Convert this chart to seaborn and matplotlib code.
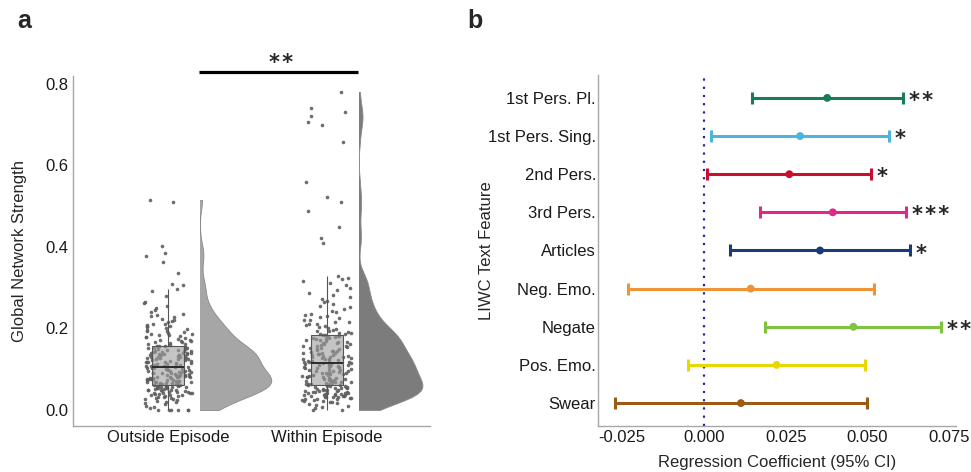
import numpy as np
import pandas as pd
import matplotlib
matplotlib.use('Agg')
import matplotlib.pyplot as plt
import seaborn as sns
from matplotlib.patches import Rectangle

# ---- panel a: global network strength per group ----
groups = ['Outside Episode', 'Within Episode']

outside_values = [
    0, 0, 0, 0, 0, 0, 0.004, 0.008, 0.011, 0.014, 0.017, 0.019, 0.021, 0.023, 0.025,
    0.026, 0.028, 0.029, 0.03, 0.031, 0.032,
    0.034, 0.035, 0.036, 0.037, 0.038, 0.039, 0.04, 0.041, 0.042, 0.043, 0.044, 0.045,
    0.046, 0.047, 0.048, 0.048, 0.049, 0.05, 0.051, 0.052, 0.053, 0.054, 0.055, 0.056,
    0.056, 0.057, 0.058, 0.059, 0.06, 0.061, 0.041, 0.045, 0.05, 0.053, 0.057, 0.059,
    0.062, 0.062, 0.063, 0.064, 0.065, 0.065, 0.066, 0.067, 0.067, 0.068, 0.069,
    0.07, 0.07, 0.071, 0.072, 0.072, 0.073, 0.074, 0.074, 0.075, 0.076, 0.076, 0.077,
    0.078, 0.078, 0.079, 0.08, 0.08, 0.081, 0.082, 0.082, 0.083, 0.084, 0.084, 0.085,
    0.086, 0.087, 0.087, 0.088, 0.089, 0.09, 0.09, 0.091, 0.092, 0.093, 0.094, 0.094,
    0.095, 0.096, 0.097, 0.098, 0.099, 0.1, 0.1, 0.101, 0.102, 0.103, 0.104, 0.105, 0.106,
    0.107, 0.108, 0.109, 0.11, 0.111, 0.112, 0.113, 0.114, 0.115, 0.116, 0.117, 0.117,
    0.118, 0.119, 0.12, 0.121, 0.122, 0.123, 0.124, 0.125, 0.126, 0.127, 0.127, 0.128,
    0.129, 0.13, 0.131, 0.132, 0.133, 0.134, 0.134, 0.135, 0.136, 0.137, 0.138, 0.138,
    0.139, 0.139,
    0.14, 0.141, 0.142, 0.143, 0.144, 0.145, 0.146, 0.147, 0.148, 0.149, 0.15, 0.151,
    0.152, 0.153, 0.154, 0.155, 0.156, 0.157, 0.158, 0.159, 0.161, 0.162,
    0.164, 0.166, 0.167, 0.169, 0.17, 0.172, 0.173, 0.175, 0.176, 0.178, 0.18, 0.181,
    0.183, 0.184, 0.186, 0.187, 0.189, 0.191, 0.193, 0.195, 0.197, 0.199, 0.201, 0.203,
    0.205, 0.206, 0.208, 0.21, 0.212, 0.215, 0.218, 0.221, 0.224, 0.227, 0.23, 0.233,
    0.236, 0.241, 0.246, 0.251, 0.256, 0.262, 0.266, 0.279, 0.292, 0.298,
    0.307, 0.31, 0.335, 0.364, 0.378, 0.385, 0.402, 0.51, 0.515,
]

within_values = [
    0, 0, 0.004, 0.008, 0.011, 0.013, 0.015, 0.017, 0.019, 0.02, 0.022, 0.023, 0.024,
    0.025, 0.026, 0.027, 0.028, 0.029, 0.03, 0.031, 0.031, 0.032, 0.033, 0.034, 0.035,
    0.035, 0.036, 0.036, 0.037, 0.038, 0.039, 0.039, 0.04, 0.041, 0.042, 0.043, 0.043,
    0.044, 0.044, 0.045, 0.046, 0.047, 0.047, 0.048, 0.049, 0.05, 0.05, 0.051, 0.052,
    0.053, 0.054, 0.055, 0.056, 0.056, 0.057, 0.058, 0.059,
    0.06, 0.061, 0.062, 0.063, 0.063, 0.064, 0.065, 0.066, 0.067, 0.068, 0.069, 0.07,
    0.071, 0.072, 0.072, 0.073, 0.074, 0.075, 0.076, 0.077, 0.078, 0.079, 0.08, 0.081,
    0.082, 0.083, 0.084, 0.085, 0.086, 0.087, 0.088, 0.089, 0.09, 0.091, 0.092, 0.093,
    0.094, 0.095, 0.096, 0.097, 0.098, 0.099, 0.1, 0.101, 0.102, 0.103, 0.104, 0.105,
    0.106, 0.107, 0.108, 0.109, 0.11, 0.111, 0.112, 0.113, 0.114, 0.115,
    0.116, 0.117, 0.118, 0.119, 0.12, 0.121, 0.122, 0.123, 0.124, 0.125, 0.126, 0.127,
    0.128, 0.129, 0.13, 0.131, 0.132, 0.133, 0.134, 0.135, 0.137, 0.138, 0.139, 0.14,
    0.141, 0.143, 0.144, 0.145, 0.146, 0.148, 0.149, 0.15, 0.152, 0.153, 0.154, 0.156,
    0.157, 0.158, 0.16, 0.161, 0.163, 0.164, 0.165, 0.167, 0.168, 0.17, 0.171, 0.173,
    0.174, 0.175, 0.176, 0.177, 0.178, 0.179, 0.18, 0.181, 0.181,
    0.183, 0.184, 0.186, 0.187, 0.189, 0.19, 0.192, 0.193, 0.195,
    0.197, 0.199, 0.201, 0.203, 0.206, 0.208, 0.21, 0.212, 0.215, 0.217, 0.22, 0.222,
    0.225, 0.228, 0.231, 0.233, 0.236, 0.24, 0.244, 0.248, 0.252, 0.256, 0.26, 0.264,
    0.268, 0.272, 0.276, 0.282, 0.288, 0.294, 0.3, 0.306, 0.312, 0.317, 0.322, 0.325,
    0.328,
    0.409, 0.421, 0.449, 0.487, 0.51, 0.522, 0.559, 0.658, 0.698, 0.705, 0.72, 0.731,
    0.741, 0.78,
]

group_sig = '**'

# ---- panel b: regression coefficients with 95% CI ----
features = ['1st Pers. Pl.', '1st Pers. Sing.', '2nd Pers.', '3rd Pers.', 'Articles',
            'Neg. Emo.', 'Negate', 'Pos. Emo.', 'Swear']
coef = [0.0377, 0.0294, 0.0261, 0.0394, 0.0355, 0.0143, 0.0457, 0.0222, 0.0113]
ci_low = [0.0146, 0.0023, 0.0010, 0.0171, 0.0079, -0.0233, 0.0188, -0.0048, -0.0272]
ci_high = [0.0609, 0.0565, 0.0511, 0.0618, 0.0630, 0.0520, 0.0725, 0.0494, 0.0499]
stars = ['**', '*', '*', '***', '*', '', '**', '', '']
feature_colors = ['#1a7a5e', '#4cb5d9', '#c8102e', '#e0288a', '#1a3a7a',
                  '#ee9436', '#80c341', '#e6d800', '#9b5b16']

sns.set_style('white')
plt.rcParams['font.family'] = ['Liberation Sans', 'DejaVu Sans']

fig = plt.figure(figsize=(9.71, 4.72), dpi=100)
ax1 = fig.add_axes([0.0752, 0.0975, 0.3676, 0.7415])
ax2 = fig.add_axes([0.6159, 0.0975, 0.3687, 0.7436])

df = pd.DataFrame({
    'group': [groups[0]] * len(outside_values) + [groups[1]] * len(within_values),
    'value': outside_values + within_values,
})
df['pos'] = df['group'].map({groups[0]: 0.0, groups[1]: 1.0})
df['vpos'] = df['pos'] + 0.2

# half violins: one call per group, then clip away the left half
violin_colors = ['#a6a6a6', '#7c7c7c']
violin_widths = [0.9, 0.805]
violin_bw = [0.021, 0.024]
for g, col, w, bw in zip(groups, violin_colors, violin_widths, violin_bw):
    sub = df[df['group'] == g]
    n_before = len(ax1.collections)
    sns.violinplot(data=sub, x='vpos', y='value', native_scale=True, color=col,
                   cut=0, inner=None, density_norm='width', width=w,
                   bw_method=bw / sub['value'].std(), linewidth=0.6,
                   linecolor='#8a8a8a', saturation=1, ax=ax1)
    vp = sub['vpos'].iloc[0]
    for coll in ax1.collections[n_before:]:
        coll.set_clip_path(Rectangle((vp, -1), 2, 3, transform=ax1.transData))

np.random.seed(3)
sns.stripplot(data=df, x='pos', y='value', native_scale=True, jitter=0.155,
              color='#5e5e5e', size=2.6, alpha=0.9, linewidth=0, ax=ax1)

n_patches = len(ax1.patches)
sns.boxplot(data=df, x='pos', y='value', native_scale=True, width=0.2,
            showfliers=False, showcaps=False, color='#a0a0a0', saturation=1,
            linecolor='#555555', linewidth=0.8,
            medianprops=dict(color='#2a2a2a', linewidth=1.4), ax=ax1)
for p in ax1.patches[n_patches:]:
    p.set_facecolor((0.62, 0.62, 0.62, 0.6))
    p.set_zorder(3)
for ln in ax1.lines:
    ln.set_zorder(4)

ax1.set_xlim(-0.6, 1.65)
ax1.set_ylim(-0.039, 0.819)
ax1.set_xticks([0, 1])
ax1.set_xticklabels(groups)
ax1.set_yticks([0, 0.2, 0.4, 0.6, 0.8])
ax1.set_yticklabels(['0.0', '0.2', '0.4', '0.6', '0.8'])
ax1.set_xlabel('')
ax1.set_ylabel('Global Network Strength', fontsize=12)
ax1.yaxis.set_label_coords(-0.13, 0.5)

star_font = dict(fontsize=15, fontweight='bold', family='DejaVu Sans')
ax1.plot([0.195, 1.195], [0.83, 0.83], color='black', lw=2.3, clip_on=False,
         solid_capstyle='butt')
ax1.text(0.711, 0.836, '\u200a'.join(group_sig), ha='center', va='baseline',
         clip_on=False, **star_font)

# ---- panel b drawing ----
ypos = list(range(len(features), 0, -1))
ax2.axvline(0, color='#2222aa', ls=(0, (1, 2.7)), lw=1.6, zorder=1)
for i in range(len(features)):
    ax2.errorbar(coef[i], ypos[i], xerr=[[coef[i] - ci_low[i]], [ci_high[i] - coef[i]]],
                 fmt='none', ecolor=feature_colors[i], elinewidth=2.2, capsize=4.5,
                 capthick=2.2, zorder=2)
sns.scatterplot(x=coef, y=ypos, hue=features, palette=feature_colors, s=32,
                linewidth=0, legend=False, zorder=3, ax=ax2)
for i in range(len(features)):
    if stars[i]:
        ax2.text(ci_high[i] + 0.0017, ypos[i] - 0.24, '\u200a'.join(stars[i]),
                 ha='left', va='baseline', clip_on=False, **star_font)

ax2.set_xlim(-0.0324, 0.0771)
ax2.set_ylim(0.4, 9.6)
ax2.set_yticks(ypos)
ax2.set_yticklabels(features)
ax2.set_xticks([-0.025, 0, 0.025, 0.05, 0.075])
ax2.set_xticklabels(['-0.025', '0.000', '0.025', '0.050', '0.075'])
ax2.set_xlabel('Regression Coefficient (95% CI)', fontsize=12, labelpad=7)
ax2.set_ylabel('LIWC Text Feature', fontsize=12)
ax2.yaxis.set_label_coords(-0.29, 0.5)

for ax in (ax1, ax2):
    for side in ('top', 'right'):
        ax.spines[side].set_visible(False)
    for side in ('left', 'bottom'):
        ax.spines[side].set_color('#a8a8a8')
        ax.spines[side].set_linewidth(1.0)
    ax.tick_params(axis='both', length=0, pad=3, labelsize=12, colors='#1a1a1a')
ax2.tick_params(axis='y', pad=1.5)

fig.text(0.0175, 0.94, 'a', fontsize=18, fontweight='bold', ha='left', va='baseline')
fig.text(0.481, 0.94, 'b', fontsize=18, fontweight='bold', ha='left', va='baseline')

fig.savefig('out.png', dpi=100)
